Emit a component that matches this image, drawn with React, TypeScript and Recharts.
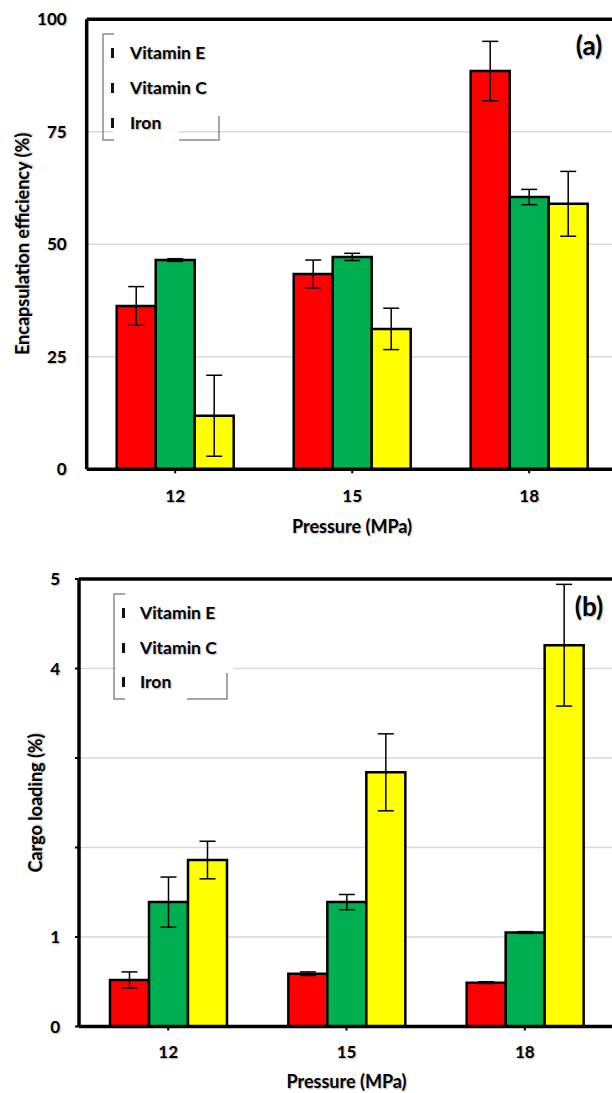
import React from 'react';
import { BarChart, Bar, XAxis, YAxis, CartesianGrid, ErrorBar, ReferenceLine, Legend } from 'recharts';

const FONT = 'Lato, "Open Sans", sans-serif';
const SHADOW = '1px 1px 1.5px rgba(0,0,0,0.3)';

const pressures = ['12', '15', '18'];
const seriesNames = ['Vitamin E', 'Vitamin C', 'Iron'];
const seriesColors = ['#FF0000', '#00B050', '#FFFF00'];

// (a) Encapsulation efficiency (%)
const effVitE = [36.3, 43.4, 88.5];
const effVitEErr = [4.3, 3.1, 6.6];
const effVitC = [46.5, 47.2, 60.5];
const effVitCErr = [0.3, 0.8, 1.7];
const effIron = [11.9, 31.2, 59.0];
const effIronErr = [9.0, 4.6, 7.2];
const effTicks = [0, 25, 50, 75, 100];
const effTickLabels = ['0', '25', '50', '75', '100'];

// (b) Cargo loading (%)
const cargoVitE = [0.52, 0.59, 0.49];
const cargoVitEErr = [0.09, 0.02, 0.01];
const cargoVitC = [1.39, 1.39, 1.05];
const cargoVitCErr = [0.28, 0.085, 0.01];
const cargoIron = [1.86, 2.84, 4.26];
const cargoIronErr = [0.21, 0.43, 0.68];
const cargoTicks = [0, 1, 2, 3, 4, 5];
const cargoTickLabels = ['0', '1', '', '', '4', '5'];

const effData = pressures.map((p, i) => ({
  p,
  e: effVitE[i], eErr: effVitEErr[i],
  c: effVitC[i], cErr: effVitCErr[i],
  fe: effIron[i], feErr: effIronErr[i],
}));
const cargoData = pressures.map((p, i) => ({
  p,
  e: cargoVitE[i], eErr: cargoVitEErr[i],
  c: cargoVitC[i], cErr: cargoVitCErr[i],
  fe: cargoIron[i], feErr: cargoIronErr[i],
}));

const keys = ['e', 'c', 'fe'];

type LegendCfg = {
  w: number; h: number; markerX: number; textX: number; rows: number[];
  frameH: number; brX1: number; brX2: number; rvY: number; whiteX: number; whiteW: number;
};

function makeLegend(cfg: LegendCfg) {
  return () => (
    <svg width={cfg.w} height={cfg.h} style={{ overflow: 'visible', display: 'block' }}>
      <rect x={cfg.whiteX} y={2} width={cfg.whiteW} height={cfg.frameH - 4} fill="#fff" />
      <g stroke="#8a8a8a" strokeWidth={1.5} fill="none">
        <polyline points={`11,0 0,0 0,${cfg.frameH} 11,${cfg.frameH}`} />
        <polyline points={`${cfg.brX1},${cfg.frameH} ${cfg.brX2},${cfg.frameH} ${cfg.brX2},${cfg.rvY}`} />
      </g>
      {seriesNames.map((n, i) => (
        <g key={n}>
          <rect x={cfg.markerX} y={cfg.rows[i] - 5} width={3} height={10} fill="#111" />
          <text x={cfg.textX} y={cfg.rows[i]} dy="0.35em" fontFamily={FONT} fontWeight="bold" fontSize={17.5} fill="#000"
            style={{ textShadow: SHADOW }}>
            {n}
          </text>
        </g>
      ))}
    </svg>
  );
}

const legendA = makeLegend({ w: 120, h: 110, markerX: 8, textX: 27, rows: [19, 54, 89], frameH: 106, brX1: 76, brX2: 116, rvY: 82, whiteX: 10, whiteW: 66 });
const legendB = makeLegend({ w: 120, h: 110, markerX: 8, textX: 26, rows: [19, 54, 88], frameH: 105, brX1: 73, brX2: 113, rvY: 79, whiteX: 2, whiteW: 117 });

const tickStyle = { fill: '#000', fontFamily: FONT, fontWeight: 'bold' as const, fontSize: 17, style: { textShadow: SHADOW } };

const titleStyle: React.CSSProperties = {
  position: 'absolute', fontFamily: FONT, fontWeight: 'bold', fontSize: 18, color: '#000',
  whiteSpace: 'nowrap', transform: 'translate(-50%, -50%)', lineHeight: 1, textShadow: SHADOW,
};

function renderBars() {
  return keys.map((k, i) => (
    <Bar key={k} dataKey={k} name={seriesNames[i]} fill={seriesColors[i]} stroke="#000" strokeWidth={2.5} isAnimationActive={false}>
      <ErrorBar dataKey={`${k}Err`} width={8} stroke="#000" strokeWidth={1.5} direction="y" isAnimationActive={false} />
    </Bar>
  ));
}

export default function App() {
  return (
    <div style={{ position: 'absolute', left: 0, top: 0, width: 612, height: 1093, overflow: 'hidden', background: '#fff' }}>
      {/* Chart (a) */}
      <div style={{ position: 'absolute', left: 0, top: 0 }}>
        <BarChart width={630} height={545} data={effData} margin={{ top: 19.3, right: 12.3, left: 0, bottom: 45.7 }}
          barCategoryGap={30} barGap={0} barSize={39}>
          <CartesianGrid vertical={false} stroke="#d9d9d9" strokeWidth={1.5} />
          {renderBars()}
          <XAxis dataKey="p" height={30} axisLine={{ stroke: '#000', strokeWidth: 3.5 }} tickLine={{ stroke: '#000', strokeWidth: 2 }}
            tickSize={4} tickMargin={17} tick={tickStyle} />
          <YAxis width={86.7} domain={[0, 100]} ticks={effTicks} interval={0} axisLine={{ stroke: '#000', strokeWidth: 3.5 }}
            tickLine={false} tickSize={4} tickMargin={16} tick={tickStyle}
            tickFormatter={(v: number) => effTickLabels[effTicks.indexOf(v)]} />
          <ReferenceLine y={100} stroke="#000" strokeWidth={3.5} />
          <Legend layout="vertical" align="center" verticalAlign="middle" content={legendA}
            wrapperStyle={{ position: 'absolute', left: 103, top: 34, width: 120, height: 110 }} />
        </BarChart>
        <div style={{ ...titleStyle, left: 21.5, top: 244, transform: 'translate(-50%, -50%) rotate(-90deg)' }}>Encapsulation efficiency (%)</div>
        <div style={{ ...titleStyle, left: 352, top: 526 }}>Pressure (MPa)</div>
        <div style={{ ...titleStyle, left: 589, top: 45, fontSize: 26 }}>(a)</div>
      </div>

      {/* Chart (b) */}
      <div style={{ position: 'absolute', left: 0, top: 560 }}>
        <BarChart width={630} height={533} data={cargoData} margin={{ top: 19, right: 16, left: 0, bottom: 36.5 }}
          barCategoryGap={30} barGap={0} barSize={39}>
          <CartesianGrid vertical={false} stroke="#d9d9d9" strokeWidth={1.5} />
          {renderBars()}
          <XAxis dataKey="p" height={30} axisLine={{ stroke: '#000', strokeWidth: 3.5 }} tickLine={{ stroke: '#000', strokeWidth: 2 }}
            tickSize={4} tickMargin={15} tick={tickStyle} />
          <YAxis width={79} domain={[0, 5]} ticks={cargoTicks} interval={0} axisLine={{ stroke: '#000', strokeWidth: 3.5 }}
            tickLine={{ stroke: '#000', strokeWidth: 2 }} tickSize={4} tickMargin={15} tick={tickStyle}
            tickFormatter={(v: number) => cargoTickLabels[cargoTicks.indexOf(v)]} />
          <ReferenceLine y={5} stroke="#000" strokeWidth={3.5} />
          <Legend layout="vertical" align="center" verticalAlign="middle" content={legendB}
            wrapperStyle={{ position: 'absolute', left: 114.3, top: 34.3, width: 120, height: 110 }} />
        </BarChart>
        <div style={{ ...titleStyle, left: 35, top: 243, transform: 'translate(-50%, -50%) rotate(-90deg)' }}>Cargo loading (%)</div>
        <div style={{ ...titleStyle, left: 346.5, top: 520.7 }}>Pressure (MPa)</div>
        <div style={{ ...titleStyle, left: 589, top: 46, fontSize: 26 }}>(b)</div>
      </div>
    </div>
  );
}
